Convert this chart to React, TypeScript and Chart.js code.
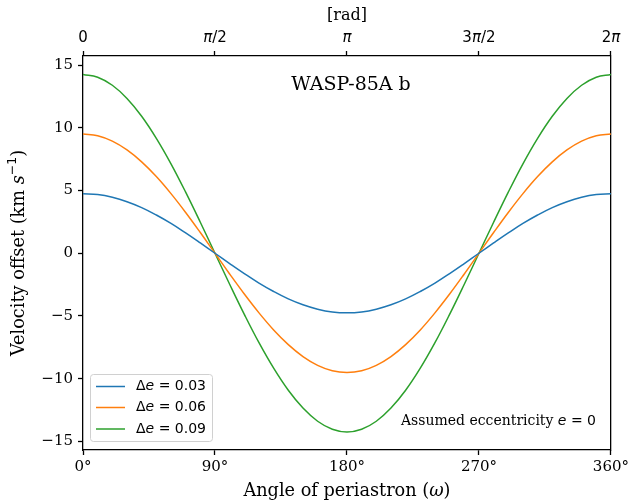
import React, { useEffect, useRef } from "react";
import { Chart, registerables } from "chart.js";

Chart.register(...registerables);

const angles = [0, 10, 20, 30, 40, 50, 60, 70, 80, 90, 100, 110, 120, 130, 140, 150, 160, 170, 180, 190, 200, 210, 220, 230, 240, 250, 260, 270, 280, 290, 300, 310, 320, 330, 340, 350, 360];
const de003 = [4.75, 4.68, 4.46, 4.11, 3.64, 3.05, 2.38, 1.62, 0.82, 0, -0.82, -1.62, -2.38, -3.05, -3.64, -4.11, -4.46, -4.68, -4.75, -4.68, -4.46, -4.11, -3.64, -3.05, -2.38, -1.62, -0.82, 0, 0.82, 1.62, 2.38, 3.05, 3.64, 4.11, 4.46, 4.68, 4.75];
const de006 = [9.5, 9.36, 8.93, 8.23, 7.28, 6.11, 4.75, 3.25, 1.65, 0, -1.65, -3.25, -4.75, -6.11, -7.28, -8.23, -8.93, -9.36, -9.5, -9.36, -8.93, -8.23, -7.28, -6.11, -4.75, -3.25, -1.65, 0, 1.65, 3.25, 4.75, 6.11, 7.28, 8.23, 8.93, 9.36, 9.5];
const de009 = [14.25, 14.03, 13.39, 12.34, 10.92, 9.16, 7.13, 4.87, 2.47, 0, -2.47, -4.87, -7.13, -9.16, -10.92, -12.34, -13.39, -14.03, -14.25, -14.03, -13.39, -12.34, -10.92, -9.16, -7.13, -4.87, -2.47, 0, 2.47, 4.87, 7.13, 9.16, 10.92, 12.34, 13.39, 14.03, 14.25];
const seriesLabels = ["0.03", "0.06", "0.09"];
const seriesColors = ["#1f77b4", "#ff7f0e", "#2ca02c"];
const degTicks = [0, 90, 180, 270, 360];
const radTickLabels: [string, string][] = [["", "0"], ["", "π/2"], ["", "π"], ["3", "π/2"], ["2", "π"]];
const yTicks = [-15, -10, -5, 0, 5, 10, 15];

const SERIF = "'DejaVu Serif'";
const SANS = "'DejaVu Sans'";

function drawParts(ctx: CanvasRenderingContext2D, parts: [string, string, number?][], x: number, y: number, align: "left" | "center" | "right") {
  let total = 0;
  for (const [t, f] of parts) {
    ctx.font = f;
    total += ctx.measureText(t).width;
  }
  let cx = align === "left" ? x : align === "center" ? x - total / 2 : x - total;
  ctx.textAlign = "left";
  for (const [t, f, dy] of parts) {
    ctx.font = f;
    ctx.fillText(t, cx, y + (dy || 0));
    cx += ctx.measureText(t).width;
  }
}

const decorPlugin = {
  id: "decor",
  afterDraw(chart: any) {
    const ctx: CanvasRenderingContext2D = chart.ctx;
    const a = chart.chartArea;
    const midX = (a.left + a.right) / 2;
    ctx.save();
    ctx.fillStyle = "#000";
    ctx.textBaseline = "middle";
    // top tick labels (π italic)
    const x2 = chart.scales.x2;
    degTicks.forEach((v, i) => {
      const px = x2.getPixelForValue(v);
      const [pre, rest] = radTickLabels[i];
      const parts: [string, string][] = [];
      if (pre) parts.push([pre, `15px ${SANS}`]);
      if (rest.startsWith("π")) {
        parts.push(["π", `italic 15px ${SANS}`]);
        if (rest.length > 1) parts.push([rest.slice(1), `15px ${SANS}`]);
      } else parts.push([rest, `15px ${SANS}`]);
      drawParts(ctx, parts, px, 38, "center");
    });
    // title inside
    ctx.font = `19px ${SERIF}`;
    ctx.textAlign = "center";
    ctx.fillText("WASP-85A b", midX + 4, 85);
    // top axis title
    ctx.font = `16px ${SERIF}`;
    ctx.fillText("[rad]", midX, 16);
    // x-axis title
    drawParts(ctx, [["Angle of periastron (", `17.7px ${SERIF}`], ["ω", `italic 17.7px ${SERIF}`], [")", `17.7px ${SERIF}`]], midX, 491, "center");
    // y-axis title
    ctx.save();
    ctx.translate(19, (a.top + a.bottom) / 2);
    ctx.rotate(-Math.PI / 2);
    drawParts(ctx, [["Velocity offset (km ", `17.7px ${SERIF}`], ["s", `italic 17.7px ${SERIF}`], ["−1", `12.5px ${SANS}`, -6], [")", `17.7px ${SERIF}`]], 0, 0, "center");
    ctx.restore();
    // annotation
    drawParts(ctx, [["Assumed eccentricity ", `14px ${SERIF}`], ["e", `italic 14px ${SANS}`], [" = 0", `14px ${SANS}`]], 596, 421, "right");
    // legend
    const lx = 90.5, ly = 374.5, lw = 122, lh = 67;
    ctx.beginPath();
    (ctx as any).roundRect(lx, ly, lw, lh, 3);
    ctx.fillStyle = "rgba(255,255,255,0.8)";
    ctx.fill();
    ctx.strokeStyle = "#d0d0d0";
    ctx.lineWidth = 1;
    ctx.stroke();
    const rows = [386.5, 407.5, 429];
    seriesLabels.forEach((lab, i) => {
      ctx.strokeStyle = seriesColors[i];
      ctx.lineWidth = 1.5;
      ctx.beginPath();
      ctx.moveTo(96, rows[i]);
      ctx.lineTo(125, rows[i]);
      ctx.stroke();
      ctx.fillStyle = "#000";
      drawParts(ctx, [["Δ", `14px ${SANS}`], ["e", `italic 14px ${SANS}`], [" = " + lab, `14px ${SANS}`]], 136, rows[i], "left");
    });
    ctx.restore();
  },
};

export default function App() {
  const ref = useRef<HTMLCanvasElement | null>(null);
  useEffect(() => {
    document.body.style.margin = "0";
    const canvas = ref.current!;
    const mk = (vals: number[]) => angles.map((x, i) => ({ x, y: vals[i] }));
    const tickGrid = { display: true, drawOnChartArea: false, drawTicks: true, tickLength: 5, tickColor: "#000", tickWidth: 1.3 };
    const border = { display: true, color: "#000", width: 1.3 };
    const chart = new Chart(canvas, {
      type: "line",
      data: {
        datasets: [de003, de006, de009].map((v, i) => ({
          label: "Δe = " + seriesLabels[i],
          data: mk(v),
          borderColor: seriesColors[i],
          backgroundColor: seriesColors[i],
          borderWidth: 1.5,
          pointRadius: 0,
          tension: 0.4,
          fill: false,
          xAxisID: "x",
          yAxisID: "y",
        })),
      },
      options: {
        animation: false,
        responsive: false,
        devicePixelRatio: 1,
        layout: { padding: 0 },
        plugins: { legend: { display: false }, tooltip: { enabled: false }, title: { display: false } },
        scales: {
          x: {
            type: "linear",
            position: "bottom",
            min: 0,
            max: 360,
            grid: tickGrid,
            border,
            afterBuildTicks: (s: any) => { s.ticks = degTicks.map((v) => ({ value: v })); },
            afterFit: (s: any) => { s.height = 51; },
            ticks: { autoSkip: false, maxRotation: 0, padding: 3, color: "#000", font: { family: SERIF, size: 15 }, callback: (v: any) => v + "°" },
          },
          x2: {
            type: "linear",
            position: "top",
            min: 0,
            max: 360,
            grid: tickGrid,
            border,
            afterBuildTicks: (s: any) => { s.ticks = degTicks.map((v) => ({ value: v })); },
            afterFit: (s: any) => { s.height = 56; },
            ticks: { autoSkip: false, maxRotation: 0, padding: 4, color: "rgba(0,0,0,0)", font: { family: SANS, size: 15 }, callback: () => "" },
          },
          y: {
            type: "linear",
            position: "left",
            min: -15.68,
            max: 15.72,
            grid: tickGrid,
            border,
            afterBuildTicks: (s: any) => { s.ticks = yTicks.map((v) => ({ value: v })); },
            afterFit: (s: any) => { s.width = 83; },
            ticks: { autoSkip: false, padding: 5, color: "#000", font: { family: SERIF, size: 15 }, callback: (v: any) => (Number(v) < 0 ? "−" + Math.abs(Number(v)) : String(v)) },
          },
          y2: {
            type: "linear",
            position: "right",
            min: -15.68,
            max: 15.72,
            grid: { display: false, drawTicks: false },
            border,
            ticks: { display: false },
            afterFit: (s: any) => { s.width = 20; },
          },
        },
      } as any,
      plugins: [decorPlugin],
    });
    return () => chart.destroy();
  }, []);
  return (
    <div style={{ width: 632, height: 501 }}>
      <canvas ref={ref} width={632} height={501} />
    </div>
  );
}
